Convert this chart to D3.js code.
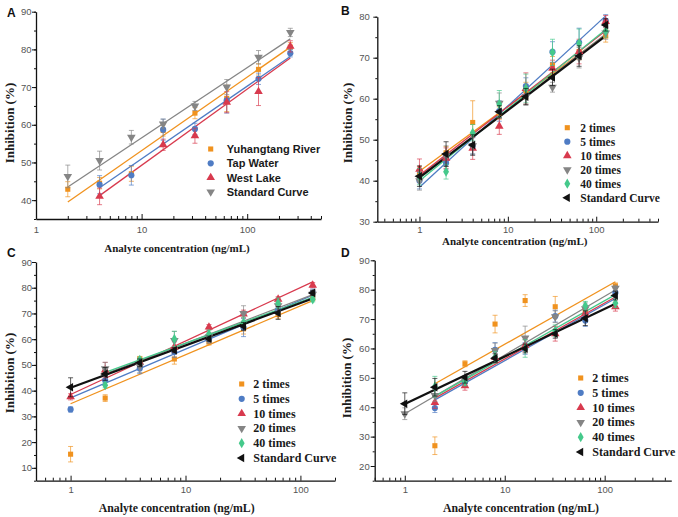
<!DOCTYPE html>
<html>
<head>
<meta charset="utf-8">
<script src="https://cdn.jsdelivr.net/npm/d3@7/dist/d3.min.js"></script>
<style>
  body { margin: 0; background: #fff; }
</style>
</head>
<body>
<svg id="chart" width="678" height="517"></svg>
<script>
// ---- data ----
// concentrations (ng/mL)
var xA = [2, 4, 8, 16, 32, 64, 128, 256];
var xDil = [1, 2, 4, 8, 16, 32, 64, 128];

// panel A: real water samples
var aNames = ["Yuhangtang River", "Tap Water", "West Lake", "Standard Curve"];
var aRiver = [42.9, 44.5, 47.0, 58.5, 63.1, 67.0, 74.7, 80.6];
var aRiverErr = [2.0, 1.5, 2.0, 1.5, 1.5, 3.5, 1.5, 1.2];
var aTap = [null, 44.1, 46.6, 58.7, 58.9, 66.5, 72.2, 79.0];
var aTapErr = [0, 2.4, 2.6, 2.8, 1.5, 3.4, 1.5, 1.0];
var aLake = [null, 41.0, null, 54.7, 57.1, 66.0, 68.8, 80.8];
var aLakeErr = [0, 2.2, 0, 1.5, 2.0, 2.8, 3.7, 1.5];
var aStd = [46.3, 50.5, 56.7, 60.2, 65.0, 70.0, 77.9, 84.5];
var aStdErr = [3.0, 2.5, 1.8, 1.3, 1.2, 2.0, 1.8, 1.1];
// fitted lines: [x start, x end] and [y start, y end]
var aFitX = [[2, 256], [4, 256], [4, 256], [2, 256]];
var aFitY = [[39.5, 80.6], [43.3, 78.1], [41.2, 77.7], [43.5, 82.8]];

// panels B, C, D: dilution series
var dilNames = ["2 times", "5 times", "10 times", "20 times", "40 times", "Standard Curve"];

var b2 = [42.0, 46.8, 54.2, 56.5, 62.0, 68.3, 71.5, 75.3];
var b2Err = [1.5, 1.5, 5.3, 1.5, 2.0, 2.0, 2.0, 1.5];
var b5 = [40.0, 44.3, 48.5, 57.0, 63.1, 71.4, 73.7, 79.0];
var b5Err = [2.0, 1.5, 2.0, 2.5, 2.0, 2.5, 3.5, 1.5];
var b10 = [42.8, 45.5, 47.9, 53.3, 62.5, 67.4, 71.5, 78.8];
var b10Err = [2.5, 2.5, 2.7, 2.0, 3.8, 2.0, 3.0, 1.5];
var b20 = [40.0, 46.0, 48.5, 58.9, 60.5, 62.8, 70.0, 76.0];
var b20Err = [2.3, 2.5, 2.0, 2.5, 2.0, 1.2, 2.5, 1.5];
var b40 = [41.0, 42.2, 51.7, 58.7, 62.5, 71.3, 73.5, 76.5];
var b40Err = [2.0, 1.8, 2.0, 3.3, 3.5, 3.2, 3.5, 1.5];
var bStd = [41.1, 46.5, 48.7, 56.8, 60.5, 65.2, 70.4, 78.0];
var bStdErr = [2.5, 3.0, 2.5, 1.5, 2.0, 2.0, 2.5, 1.5];
var bFitX = [[1, 128], [1, 128], [1, 128], [1, 128], [1, 128], [1, 128]];
var bFitY = [[42.3, 75.6], [38.4, 80.2], [41.3, 76.6], [40.6, 75.8], [40.0, 76.9], [40.8, 75.3]];

var c2 = [15.3, 37.1, 52.3, 52.3, 58.9, 64.0, 69.6, 76.0];
var c2Err = [3.0, 1.3, 1.0, 2.0, 1.2, 2.0, 1.5, 1.0];
var c5 = [32.7, 44.0, 48.6, 55.0, 60.0, 64.5, 71.5, 78.0];
var c5Err = [1.0, 2.0, 2.0, 2.0, 1.5, 3.5, 2.0, 1.5];
var c10 = [37.6, 48.0, 51.0, 57.0, 64.7, 69.8, 75.5, 81.0];
var c10Err = [1.2, 3.0, 1.5, 2.0, 1.0, 1.5, 1.0, 1.0];
var c20 = [null, 48.5, 49.5, 59.5, 61.0, 70.0, 73.0, 77.5];
var c20Err = [0, 2.5, 2.5, 3.5, 1.5, 3.0, 2.0, 1.5];
var c40 = [null, 42.1, 52.0, 60.1, 62.0, 66.5, 74.0, 75.5];
var c40Err = [0, 1.0, 1.0, 3.0, 1.5, 2.0, 2.0, 1.0];
var cStd = [41.3, 46.5, 50.8, 55.7, 60.2, 65.0, 70.2, 78.0];
var cStdErr = [3.7, 2.5, 1.5, 1.0, 1.0, 1.5, 2.5, 1.0];
var cFitX = [[1, 128], [1, 128], [1, 128], [2, 128], [2, 128], [1, 128]];
var cFitY = [[34.9, 75.0], [37.2, 77.1], [38.5, 82.3], [46.5, 77.3], [47.1, 76.3], [41.1, 75.8]];

var d2 = [null, 26.9, 54.8, 68.3, 76.3, 74.2, 73.0, 81.3];
var d2Err = [0, 3.0, 1.0, 3.0, 2.0, 3.5, 1.5, 1.0];
var d5 = [null, 39.7, 48.5, 59.5, 60.0, 71.0, 69.5, 79.0];
var d5Err = [0, 1.5, 1.5, 2.5, 2.0, 2.0, 2.0, 1.5];
var d10 = [null, 41.6, 47.3, 57.0, 61.0, 65.0, 72.0, 74.2];
var d10Err = [0, 2.0, 1.5, 2.0, 2.0, 2.5, 1.5, 1.5];
var d20 = [37.8, 44.0, 49.0, 59.3, 63.6, 70.8, 73.5, 80.5];
var d20Err = [2.0, 2.0, 1.5, 2.5, 4.0, 2.0, 2.0, 1.0];
var d40 = [null, 47.0, 48.8, 57.0, 60.0, 66.0, 74.5, 75.4];
var d40Err = [0, 3.5, 1.5, 2.0, 3.0, 2.0, 1.5, 1.5];
var dStd = [41.2, 46.8, 50.2, 56.7, 60.0, 65.0, 70.3, 78.0];
var dStdErr = [3.7, 3.0, 2.0, 1.5, 1.5, 1.5, 2.5, 1.5];
var dFitX = [[2, 128], [2, 128], [2, 128], [1, 128], [2, 128], [1, 128]];
var dFitY = [[48.0, 82.7], [42.5, 77.0], [43.1, 77.5], [37.8, 79.9], [43.7, 78.3], [41.1, 75.2]];

var xTickLabels = [1, 10, 100];

// ---- styles (index = series position) ----
var colors = ["#f0921e", "#4f7cc4", "#d83a4e", "#858585", "#45c98b", "#111111"];
var shapes = [d3.symbolSquare, d3.symbolCircle, d3.symbolTriangle, d3.symbolTriangle, d3.symbolDiamond, d3.symbolTriangle];
var rotate = [0, 0, 0, 180, 0, -90];
var sizes = [26, 30, 32, 32, 30, 32];

var svg = d3.select("#chart");

function minorTicks(domain) {
  var out = [];
  var lo = Math.floor(Math.log10(domain[0])), hi = Math.ceil(Math.log10(domain[1]));
  for (var e = lo; e <= hi; e++) {
    for (var k = 2; k <= 9; k++) {
      var v = k * Math.pow(10, e);
      if (v >= domain[0] && v <= domain[1]) out.push(v);
    }
  }
  return out;
}

function range(a, b, step) {
  var out = [];
  for (var v = a; v <= b + 1e-9; v += step) out.push(v);
  return out;
}

function drawPanel(p) {
  var g = svg.append("g");
  var x = d3.scaleLog().domain(p.xDomain).range([p.left, p.right]);
  var y = d3.scaleLinear().domain(p.yDomain).range([p.bottom, p.top]);

  // x axis: ticks pointing inward
  g.append("g")
    .attr("transform", "translate(0," + p.bottom + ")")
    .call(d3.axisBottom(x).tickValues(minorTicks(p.xDomain)).tickSizeInner(-3).tickSizeOuter(0).tickFormat(""))
    .call(function (a) { a.select(".domain").remove(); });
  g.append("g")
    .attr("class", "tick-labels")
    .attr("transform", "translate(0," + p.bottom + ")")
    .call(d3.axisBottom(x).tickValues(xTickLabels).tickSizeInner(-5).tickSizeOuter(0).tickPadding(p.xGap).tickFormat(d3.format("d")));

  // y axis
  g.append("g")
    .attr("transform", "translate(" + p.left + ",0)")
    .call(d3.axisLeft(y).tickValues(range(p.yDomain[0], p.yDomain[1], 5)).tickSizeInner(2).tickSizeOuter(0).tickFormat(""))
    .call(function (a) { a.select(".domain").remove(); });
  g.append("g")
    .attr("class", "tick-labels")
    .attr("transform", "translate(" + p.left + ",0)")
    .call(d3.axisLeft(y).tickValues(p.yTicks).tickSizeInner(4).tickSizeOuter(0).tickPadding(p.yGap - 4));

  g.selectAll(".domain").attr("stroke", "#111").attr("stroke-width", 1.3);
  g.selectAll(".tick line").attr("stroke", "#111");
  g.selectAll(".tick-labels text")
    .attr("font-family", "Liberation Sans, Arial, sans-serif")
    .attr("font-size", 9.5)
    .attr("fill", "#555");

  // fitted lines
  p.series.forEach(function (s, i) {
    g.append("line")
      .attr("x1", x(s.fitX[0])).attr("x2", x(s.fitX[1]))
      .attr("y1", y(s.fitY[0])).attr("y2", y(s.fitY[1]))
      .attr("stroke", colors[s.style])
      .attr("stroke-width", s.style === 5 ? 2.2 : 1.3);
  });

  // error bars + markers
  p.series.forEach(function (s) {
    var pts = p.x.map(function (v, j) { return { x: v, y: s.values[j], e: s.err[j] }; })
      .filter(function (d) { return d.y != null; });
    g.append("g").selectAll("path")
      .data(pts).enter().append("path")
      .attr("d", function (d) {
        var cx = x(d.x), y1 = y(d.y + d.e), y2 = y(d.y - d.e);
        return "M" + (cx - 2.5) + "," + y1 + "H" + (cx + 2.5) +
               "M" + cx + "," + y1 + "V" + y2 +
               "M" + (cx - 2.5) + "," + y2 + "H" + (cx + 2.5);
      })
      .attr("fill", "none")
      .attr("stroke", colors[s.style])
      .attr("stroke-opacity", 0.75)
      .attr("stroke-width", 0.9);
    g.append("g").selectAll("path")
      .data(pts).enter().append("path")
      .attr("d", d3.symbol().type(shapes[s.style]).size(sizes[s.style]))
      .attr("transform", function (d) {
        return "translate(" + x(d.x) + "," + y(d.y) + ") rotate(" + rotate[s.style] + ")";
      })
      .attr("fill", colors[s.style]);
  });

  // legend
  var lg = g.append("g");
  p.series.forEach(function (s, i) {
    var ly = p.legend.y + i * p.legend.dy;
    lg.append("path")
      .attr("d", d3.symbol().type(shapes[s.style]).size(sizes[s.style]))
      .attr("transform", "translate(" + p.legend.x + "," + ly + ") rotate(" + rotate[s.style] + ")")
      .attr("fill", colors[s.style]);
    lg.append("text")
      .attr("x", p.legend.tx).attr("y", ly + 4)
      .attr("font-family", p.legend.font)
      .attr("font-size", p.legend.size)
      .attr("font-weight", "bold")
      .attr("fill", "#1a1a1a")
      .text(s.name);
  });

  // axis titles
  g.append("text")
    .attr("x", p.xTitle[0]).attr("y", p.xTitle[1] + 4)
    .attr("text-anchor", "middle")
    .attr("font-family", "Liberation Serif, Times New Roman, serif")
    .attr("font-weight", "bold")
    .attr("font-size", p.xTitle[2])
    .attr("fill", "#1a1a1a")
    .text("Analyte concentration (ng/mL)");
  g.append("text")
    .attr("transform", "translate(" + (p.yTitle[0] + 4) + "," + p.yTitle[1] + ") rotate(-90)")
    .attr("text-anchor", "middle")
    .attr("font-family", "Liberation Serif, Times New Roman, serif")
    .attr("font-weight", "bold")
    .attr("font-size", 13)
    .attr("fill", "#1a1a1a")
    .text("Inhibition (%)");

  // panel letter
  g.append("text")
    .attr("x", p.letter[0]).attr("y", p.letter[1])
    .attr("font-family", "Liberation Sans, Arial, sans-serif")
    .attr("font-weight", "bold")
    .attr("font-size", 12)
    .attr("fill", "#111")
    .text(p.letter[2]);
}

function makeSeries(names, values, errs, fitX, fitY, styles) {
  return names.map(function (n, i) {
    return { name: n, values: values[i], err: errs[i], fitX: fitX[i], fitY: fitY[i], style: styles[i] };
  });
}

var serifLegend = "Liberation Serif, Times New Roman, serif";

drawPanel({
  left: 36, right: 321, top: 11.7, bottom: 219,
  xDomain: [1, 500], yDomain: [35, 90], yTicks: range(40, 90, 10), yGap: 4.5, xGap: 7,
  x: xA,
  series: makeSeries(aNames, [aRiver, aTap, aLake, aStd], [aRiverErr, aTapErr, aLakeErr, aStdErr], aFitX, aFitY, [0, 1, 2, 3]),
  legend: { x: 210.7, tx: 226.7, y: 149, dy: 14.3, font: "Liberation Sans, Arial, sans-serif", size: 11 },
  xTitle: [177, 248, 11], yTitle: [10, 123], letter: [7, 17, "A"]
});

drawPanel({
  left: 377.3, right: 658, top: 16.7, bottom: 221.7,
  xDomain: [1 / 3, 500], yDomain: [30, 80], yTicks: range(30, 80, 10), yGap: 7.5, xGap: 4.5,
  x: xDil,
  series: makeSeries(dilNames, [b2, b5, b10, b20, b40, bStd], [b2Err, b5Err, b10Err, b20Err, b40Err, bStdErr], bFitX, bFitY, [0, 1, 2, 3, 4, 5]),
  legend: { x: 567.3, tx: 580.3, y: 127.7, dy: 14, font: serifLegend, size: 11.5 },
  xTitle: [514.7, 241, 11], yTitle: [348, 123], letter: [341, 15, "B"]
});

drawPanel({
  left: 36, right: 335, top: 262, bottom: 480.7,
  xDomain: [0.5, 200], yDomain: [5, 90], yTicks: range(10, 90, 10), yGap: 4, xGap: 5.5,
  x: xDil,
  series: makeSeries(dilNames, [c2, c5, c10, c20, c40, cStd], [c2Err, c5Err, c10Err, c20Err, c40Err, cStdErr], cFitX, cFitY, [0, 1, 2, 3, 4, 5]),
  legend: { x: 241.7, tx: 253.3, y: 384, dy: 14.8, font: serifLegend, size: 12 },
  xTitle: [176.7, 508, 11.8], yTitle: [10, 373], letter: [7, 257, "C"]
});

drawPanel({
  left: 374.7, right: 671.3, top: 260.3, bottom: 480.7,
  xDomain: [0.5, 464], yDomain: [15, 90], yTicks: range(20, 90, 10), yGap: 5, xGap: 5.5,
  x: xDil,
  series: makeSeries(dilNames, [d2, d5, d10, d20, d40, dStd], [d2Err, d5Err, d10Err, d20Err, d40Err, dStdErr], dFitX, dFitY, [0, 1, 2, 3, 4, 5]),
  legend: { x: 580.7, tx: 592.3, y: 378, dy: 14.8, font: serifLegend, size: 12 },
  xTitle: [521, 508, 11.8], yTitle: [347, 378], letter: [341, 257, "D"]
});
</script>
</body>
</html>
